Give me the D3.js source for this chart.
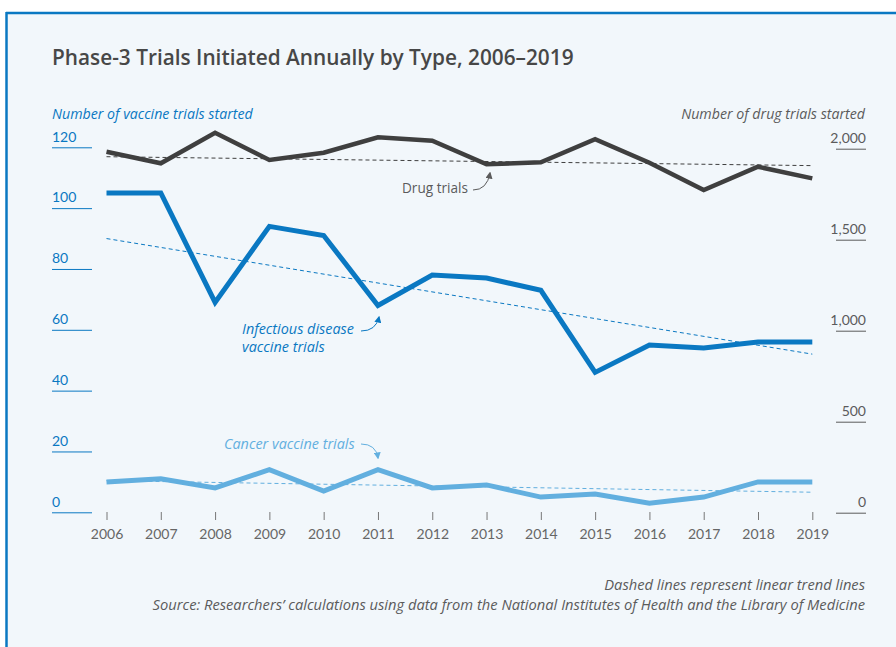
<!DOCTYPE html>
<html>
<head>
<meta charset="utf-8">
<script src="https://cdn.jsdelivr.net/npm/d3@7"></script>
<style>
  body { margin: 0; background: #fff; }
  svg { display: block; font-family: "Open Sans", Lato, sans-serif; }
</style>
</head>
<body>
<svg id="chart"></svg>
<script>
var years = [2006, 2007, 2008, 2009, 2010, 2011, 2012, 2013, 2014, 2015, 2016, 2017, 2018, 2019];
var drugTrials = [1983, 1920, 2088, 1938, 1978, 2063, 2044, 1914, 1925, 2052, 1923, 1773, 1901, 1837];
var infectiousTrials = [105, 105, 69, 94, 91, 68, 78, 77, 73, 46, 55, 54, 56, 56];
var cancerTrials = [10, 11, 8, 14, 7, 14, 8, 9, 5, 6, 3, 5, 10, 10];

// dashed linear trend lines, start and end values
var trendYears = [2006, 2019];
var drugTrend = [1956, 1907];
var infectiousTrend = [90, 52];
var cancerTrend = [10.4, 6.6];

var leftTicks = [0, 20, 40, 60, 80, 100, 120];
var rightTicks = [0, 500, 1000, 1500, 2000];

var width = 896, height = 647;
var blue = "#0a78c2", lightBlue = "#62afdf", dark = "#3f3f3f", grey = "#5b5b5b";
var tickFont = "Lato, sans-serif";

var svg = d3.select("#chart").attr("width", width).attr("height", height);

// panel
svg.append("rect").attr("x", 6).attr("y", 12).attr("width", width).attr("height", height)
  .attr("fill", "#f2f7fb");
svg.append("line").attr("x1", 6).attr("x2", width).attr("y1", 13).attr("y2", 13)
  .attr("stroke", blue).attr("stroke-width", 2.5);
svg.append("line").attr("x1", 6.5).attr("x2", 6.5).attr("y1", 12).attr("y2", height)
  .attr("stroke", blue).attr("stroke-width", 2.5);

svg.append("text").attr("x", 52).attr("y", 65)
  .attr("font-size", 20.8).attr("font-weight", 600).attr("fill", "#474747")
  .text("Phase-3 Trials Initiated Annually by Type, 2006\u20132019");

svg.append("text").attr("x", 52).attr("y", 119)
  .attr("font-size", 14.2).attr("font-style", "italic").attr("fill", blue)
  .text("Number of vaccine trials started");
svg.append("text").attr("x", 865).attr("y", 119).attr("text-anchor", "end")
  .attr("font-size", 14.2).attr("font-style", "italic").attr("fill", grey)
  .text("Number of drug trials started");

var x = d3.scaleLinear().domain([2006, 2019]).range([106.5, 812.3]);
var yL = d3.scaleLinear().domain([0, 120]).range([512.3, 147.3]);
var yR = d3.scaleLinear().domain([0, 2000]).range([512.7, 148.7]);

// left axis
var gL = svg.append("g").attr("transform", "translate(52,0)")
  .call(d3.axisRight(yL).tickValues(leftTicks).tickSize(40));
gL.select(".domain").remove();
gL.selectAll(".tick line").attr("stroke", blue);
gL.selectAll(".tick text").attr("x", 0).attr("dy", "-0.45em")
  .attr("font-size", 14).attr("font-family", tickFont).attr("fill", blue);

// right axis
var gR = svg.append("g").attr("transform", "translate(866,0)")
  .call(d3.axisLeft(yR).tickValues(rightTicks).tickSize(30).tickFormat(d3.format(",")));
gR.select(".domain").remove();
gR.selectAll(".tick line").attr("stroke", grey);
gR.selectAll(".tick text").attr("x", 0).attr("dy", "-0.45em")
  .attr("font-size", 14).attr("font-family", tickFont).attr("fill", grey);

// x axis
var gX = svg.append("g").attr("transform", "translate(0,512)")
  .call(d3.axisBottom(x).tickValues(years).tickFormat(d3.format("d")).tickSize(8).tickPadding(9));
gX.select(".domain").remove();
gX.selectAll(".tick line").attr("stroke", "#777");
gX.selectAll(".tick text").attr("font-size", 14).attr("font-family", tickFont).attr("fill", "#666");

// trend lines
function trend(vals, scale, color) {
  svg.append("line")
    .attr("x1", x(trendYears[0])).attr("x2", x(trendYears[1]))
    .attr("y1", scale(vals[0])).attr("y2", scale(vals[1]))
    .attr("stroke", color).attr("stroke-width", 1).attr("stroke-dasharray", "4,3");
}
trend(drugTrend, yR, dark);
trend(infectiousTrend, yL, blue);
trend(cancerTrend, yL, lightBlue);

// series lines
function series(vals, scale, color, w) {
  var line = d3.line().x((d, i) => x(years[i])).y(d => scale(d));
  svg.append("path").datum(vals).attr("d", line)
    .attr("fill", "none").attr("stroke", color).attr("stroke-width", w)
    .attr("stroke-linejoin", "miter");
}
series(drugTrials, yR, dark, 4.5);
series(infectiousTrials, yL, blue, 5);
series(cancerTrials, yL, lightBlue, 5);

// annotations
function arrowHead(color, id) {
  svg.append("defs").append("marker").attr("id", id)
    .attr("viewBox", "0 0 10 10").attr("refX", 8).attr("refY", 5)
    .attr("markerWidth", 7).attr("markerHeight", 7).attr("orient", "auto")
    .append("path").attr("d", "M0,0L10,5L0,10Z").attr("fill", color);
}
arrowHead(grey, "a-dark");
arrowHead(blue, "a-blue");
arrowHead(lightBlue, "a-light");

svg.append("text").attr("x", 402).attr("y", 193).attr("font-size", 13.6).attr("fill", grey)
  .text("Drug trials");
svg.append("path").attr("d", "M473,190Q487,190 490,173")
  .attr("fill", "none").attr("stroke", grey).attr("stroke-width", 1).attr("marker-end", "url(#a-dark)");

var inf = svg.append("text").attr("x", 242).attr("font-size", 14.4).attr("font-style", "italic").attr("fill", blue);
inf.append("tspan").attr("x", 242).attr("y", 334).text("Infectious disease");
inf.append("tspan").attr("x", 242).attr("y", 352).text("vaccine trials");
svg.append("path").attr("d", "M361,331Q376,331 379,317")
  .attr("fill", "none").attr("stroke", blue).attr("stroke-width", 1).attr("marker-end", "url(#a-blue)");

svg.append("text").attr("x", 224).attr("y", 449).attr("font-size", 14.4).attr("font-style", "italic").attr("fill", lightBlue)
  .text("Cancer vaccine trials");
svg.append("path").attr("d", "M361,444Q376,444 378,458")
  .attr("fill", "none").attr("stroke", lightBlue).attr("stroke-width", 1).attr("marker-end", "url(#a-light)");

// footer
svg.append("text").attr("x", 865).attr("y", 590).attr("text-anchor", "end")
  .attr("font-size", 14.7).attr("font-style", "italic").attr("fill", grey)
  .text("Dashed lines represent linear trend lines");
svg.append("text").attr("x", 865).attr("y", 610).attr("text-anchor", "end")
  .attr("font-size", 14.7).attr("font-style", "italic").attr("fill", grey)
  .text("Source: Researchers\u2019 calculations using data from the National Institutes of Health and the Library of Medicine");
</script>
</body>
</html>
